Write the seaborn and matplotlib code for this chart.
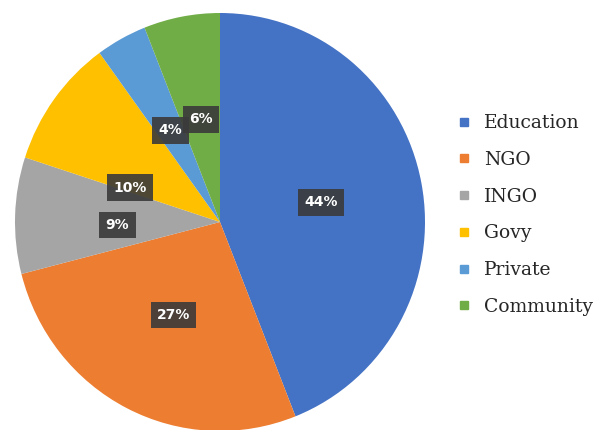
import matplotlib
matplotlib.use("Agg")
import matplotlib.pyplot as plt
import seaborn as sns
from matplotlib.lines import Line2D

categories = ["Education", "NGO", "INGO", "Govy", "Private", "Community"]
values = [44, 27, 9, 10, 4, 6]
colors = ["#4472C4", "#ED7D31", "#A5A5A5", "#FFC000", "#5B9BD5", "#70AD47"]

sns.set_theme(style="white")
plt.rcParams['font.family'] = ['DejaVu Sans']

fig = plt.figure(figsize=(5.99, 4.30), dpi=100)
ax = fig.add_axes([15/599, -1/430, 410/599, 418/430])

wedges, texts, autotexts = ax.pie(
    values, colors=colors, startangle=90, counterclock=False,
    autopct=lambda p: f"{p:.0f}%", pctdistance=0.5,
    wedgeprops=dict(linewidth=0),
    textprops=dict(color="white", fontsize=10, fontweight="bold"))
for t in autotexts:
    t.set_bbox(dict(boxstyle="square,pad=0.45", facecolor="#3a3a3a", edgecolor="none", alpha=0.9))
# label nudges, as in the original
gx, gy = autotexts[3].get_position()
autotexts[3].set_position((gx - 0.035, gy - 0.13))
ix, iy = autotexts[2].get_position()
autotexts[2].set_position((ix, iy - 0.03))
ax.set_xlim(-1, 1)
ax.set_ylim(-1, 1)
ax.set_aspect("auto")
ax.axis("off")

handles = [Line2D([0], [0], marker="s", linestyle="none", markersize=6,
                  markerfacecolor=c, markeredgecolor=c) for c in colors]
fig.legend(handles, categories, loc="center left", bbox_to_anchor=(456/599, 215/430),
           frameon=False, prop=dict(family="DejaVu Serif", size=13.5),
           labelspacing=1.0, handletextpad=0.7, handlelength=0.8, borderaxespad=0,
           borderpad=0)

fig.savefig("out.png", dpi=100)
